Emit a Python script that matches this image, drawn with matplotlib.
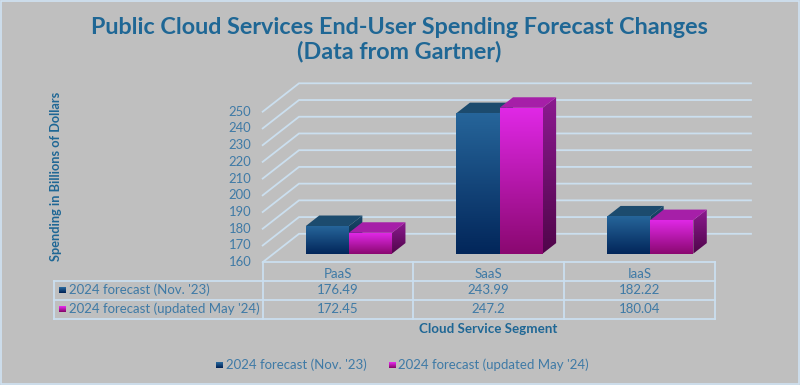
import numpy as np
import matplotlib
matplotlib.use("Agg")
import matplotlib.pyplot as plt
from matplotlib.colors import LinearSegmentedColormap
from matplotlib.patches import Polygon, Rectangle
from matplotlib.transforms import Affine2D

categories = ["PaaS", "SaaS", "IaaS"]
series_names = ["2024 forecast (Nov. '23)", "2024 forecast (updated May '24)"]
forecast_nov = [176.49, 243.99, 182.22]
forecast_may = [172.45, 247.2, 180.04]
nov_labels = ["176.49", "243.99", "182.22"]
may_labels = ["172.45", "247.2", "180.04"]
y_ticks = [160, 170, 180, 190, 200, 210, 220, 230, 240, 250]
title = "Public Cloud Services End-User Spending Forecast Changes\n(Data from Gartner)"
y_title = "Spending in Billions of Dollars"
x_title = "Cloud Service Segment"

W, H = 800, 385
FONT = "Lato"
TXT = "#3f7aa6"
BOLD = "#1f6795"
GRID = "#cbdfef"
BG = "#bfbfbf"

fig = plt.figure(figsize=(W / 100, H / 100), dpi=100, facecolor=BG)
L, R, T, B = 262.7, 714.7, 111.7, 262.2
ax = fig.add_axes([L / W, 1 - B / H, (R - L) / W, (B - T) / H])
ax.set_xlim(0, 3)
ax.set_ylim(160, 250)
ax.axis("off")
ax.patch.set_alpha(0)

# px transform for layout items (table, legend, frame)
px = Affine2D().scale(1 / W, -1 / H).translate(0, 1) + fig.transFigure

# depth projection, in data units
DX = 36.3 / (R - L) * 3
DY = 28.4 / (B - T) * 90


def depth(x, y, d):
    return x + d * DX, y + d * DY


# walls: 3-D gridlines, floor level included
for v in y_ticks:
    x1, y1 = depth(0, v, 1)
    x2, _ = depth(3, v, 1)
    ax.plot([0, x1, x2], [v, y1, y1], color=GRID, lw=1.3, clip_on=False, zorder=1,
            solid_joinstyle="miter")


def grad(verts, top, bottom, z):
    verts = np.array(verts)
    cmap = LinearSegmentedColormap.from_list("g", [bottom, top])
    g = np.linspace(0, 1, 128).reshape(-1, 1)
    ext = [verts[:, 0].min(), verts[:, 0].max(), verts[:, 1].min(), verts[:, 1].max()]
    im = ax.imshow(g, origin="lower", extent=ext, aspect="auto", cmap=cmap, zorder=z,
                   interpolation="bilinear")
    poly = Polygon(verts, closed=True, transform=ax.transData, fc="none", ec="none")
    ax.add_patch(poly)
    poly.set_clip_on(False)
    im.set_clip_box(fig.bbox)
    im.set_clip_path(poly)


styles = [
    dict(ft="#26659a", fb="#02265a", st="#1b4a6c", sb="#021e3c", tp="#1c4b6e"),
    dict(ft="#e028e6", fb="#8a0870", st="#8c1a90", sb="#50054a", tp="#a61fa8"),
]
BW = 43.1 / (R - L) * 3
D0, D1 = 0.3, 0.67
base = 160 + (B - 253.6) / (B - T) * 90
for c in range(3):
    left = c + 0.5 + D0 * DX - BW
    for s, vals in enumerate([forecast_nov, forecast_may]):
        st = styles[s]
        v = vals[c]
        x0 = left + s * BW
        x1 = x0 + BW
        z = 3 + c * 10 + s * 3
        yt = base + (v - 160)
        dxb, dyb = (D1 - D0) * DX, (D1 - D0) * DY
        # side
        grad([(x1, base), (x1 + dxb, base + dyb), (x1 + dxb, yt + dyb), (x1, yt)], st["st"], st["sb"], z)
        # top
        ax.add_patch(Polygon([(x0, yt), (x1, yt), (x1 + dxb, yt + dyb), (x0 + dxb, yt + dyb)],
                             closed=True, fc=st["tp"], ec="none", zorder=z + 0.1, clip_on=False))
        # front
        grad([(x0, base), (x1, base), (x1, yt), (x0, yt)], st["ft"], st["fb"], z + 0.2)
ax.set_xlim(0, 3)
ax.set_ylim(160, 250)

# y ticks
for v in y_ticks:
    ax.annotate(str(v), (0, v), xytext=(-11.5 * 0.72, 0), textcoords="offset points", ha="right",
                va="center", fontsize=9.4, color=TXT, family=FONT, annotation_clip=False)


def line(xs, ys):
    fig.add_artist(plt.Line2D(xs, ys, transform=px, color=GRID, lw=1.3, solid_capstyle="projecting"))


def text(x, y, s, **kw):
    kw.setdefault("color", TXT)
    kw.setdefault("family", FONT)
    kw.setdefault("fontsize", 9.5)
    kw.setdefault("va", "center")
    kw.setdefault("ha", "center")
    fig.text(x, y, s, transform=px, **kw)


def key(x, y, s):
    st = styles[s]
    cmap = LinearSegmentedColormap.from_list("k", [st["fb"], st["ft"]])
    for i in range(6):
        fig.add_artist(Rectangle((x, y - 3 + i), 6.5, 1.05, transform=px, fc=cmap(1 - i / 5), ec="none"))


# table
xs = [262.7, 413.3, 564.0, 714.7]
ys = [262.2, 280.7, 299.7, 318.7]
line([xs[0], xs[-1]], [ys[0], ys[0]])
for y in ys[1:]:
    line([54.3, xs[-1]], [y, y])
line([54.3, 54.3], [ys[1], ys[3]])
for x in xs:
    line([x, x], [ys[0], ys[3]])
for i in range(3):
    cx = (xs[i] + xs[i + 1]) / 2
    text(cx, 274, categories[i])
    text(cx, 289.5, nov_labels[i])
    text(cx, 308.7, may_labels[i])
key(59, 290, 0)
key(59, 309, 1)
text(68.7, 289.5, series_names[0], ha="left")
text(68.7, 308.7, series_names[1], ha="left")

# axis titles
text(488, 329, x_title, color=BOLD, weight="bold", fontsize=9.6)
text(56, 176, y_title, color=BOLD, weight="bold", fontsize=9.2, rotation=90)

# legend
key(216, 364.7, 0)
text(225.7, 364.5, series_names[0], ha="left")
key(389, 364.7, 1)
text(398.5, 364.5, series_names[1], ha="left")

# title
text(399, 27, title.split("\n")[0], color=BOLD, weight="bold", fontsize=16.85)
text(399, 51, title.split("\n")[1], color=BOLD, weight="bold", fontsize=16.85)

# frame
fig.add_artist(Rectangle((0.7, 0.7), W - 1.4, H - 1.4, transform=px, fc="none", ec="#cfe2f3", lw=1.2))

fig.savefig("out.png", dpi=100, facecolor=BG)
